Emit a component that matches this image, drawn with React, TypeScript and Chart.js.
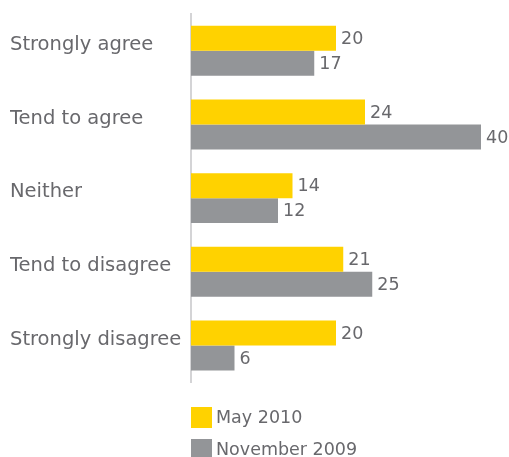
import React, { useEffect, useRef } from "react";
import { Chart, registerables } from "chart.js";

Chart.register(...registerables);

const categories = ["Strongly agree", "Tend to agree", "Neither", "Tend to disagree", "Strongly disagree"];
const may2010 = [20, 24, 14, 21, 20];
const nov2009 = [17, 40, 12, 25, 6];
const seriesNames = ["May 2010", "November 2009"];
const seriesColors = ["#FFD200", "#939598"];

const FONT = "'DejaVu Sans', sans-serif";
const TEXT = "#68686c";

const valueLabels = {
  id: "valueLabels",
  afterDatasetsDraw(chart: any) {
    const ctx = chart.ctx;
    ctx.save();
    ctx.font = `17.5px ${FONT}`;
    ctx.fillStyle = TEXT;
    ctx.textAlign = "left";
    ctx.textBaseline = "middle";
    chart.data.datasets.forEach((ds: any, i: number) => {
      const meta = chart.getDatasetMeta(i);
      meta.data.forEach((bar: any, j: number) => {
        ctx.fillText(String(ds.data[j]), bar.x + 5, bar.y + 1);
      });
    });
    ctx.restore();
  },
};

export default function App() {
  const ref = useRef<HTMLCanvasElement>(null);
  useEffect(() => {
    const chart = new Chart(ref.current!, {
      type: "bar",
      data: {
        labels: categories,
        datasets: [
          { label: seriesNames[0], data: may2010, backgroundColor: seriesColors[0] },
          { label: seriesNames[1], data: nov2009, backgroundColor: seriesColors[1] },
        ],
      },
      options: {
        indexAxis: "y",
        animation: false,
        responsive: false,
        events: [],
        layout: { padding: { top: 14, bottom: 0, right: 28, left: 10 } },
        datasets: { bar: { barPercentage: 1, categoryPercentage: 0.678 } },
        plugins: { legend: { display: false }, tooltip: { enabled: false } },
        scales: {
          x: { display: false, min: 0, max: 40 },
          y: {
            afterFit: (s: any) => {
              s.width = 181;
            },
            grid: { display: false, drawTicks: false },
            border: { display: true, color: "#d4d4d6", width: 2 },
            ticks: {
              crossAlign: "far",
              color: TEXT,
              font: { family: FONT, size: 19.5 },
              padding: 0,
              labelOffset: -6,
            },
          },
        },
      },
      plugins: [valueLabels],
    });
    return () => chart.destroy();
  }, []);

  return (
    <div style={{ position: "fixed", left: 0, top: 0, width: 509, height: 457, background: "#fff" }}>
      <canvas ref={ref} width={509} height={394} style={{ display: "block" }} />
      <div style={{ position: "absolute", left: 191, top: 407 }}>
        {seriesNames.map((n, i) => (
          <div key={n} style={{ display: "flex", alignItems: "center", height: 21, marginBottom: 10.5 }}>
            <span style={{ width: 21, height: 21, background: seriesColors[i], display: "inline-block" }} />
            <span style={{ marginLeft: 4, fontFamily: FONT, fontSize: 17.5, color: TEXT, lineHeight: "21px" }}>{n}</span>
          </div>
        ))}
      </div>
    </div>
  );
}
